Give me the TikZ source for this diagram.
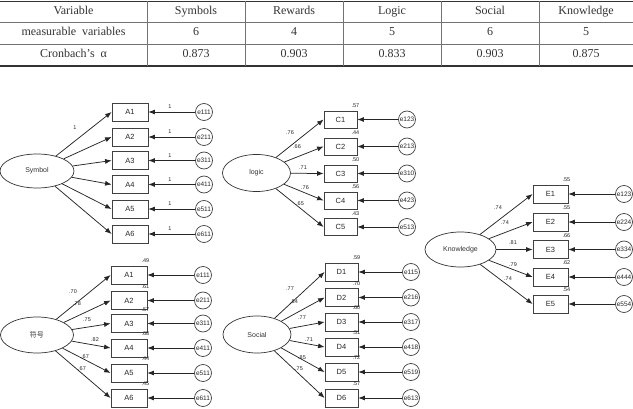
\documentclass[tikz,border=0pt]{standalone}
\usepackage{fontspec}
\setmainfont{Liberation Serif}
\newfontfamily\dsans{Liberation Sans}
\newfontfamily\cjk{Noto Sans CJK SC}
\usetikzlibrary{arrows.meta,shapes.geometric}
\begin{document}
\begin{tikzpicture}[x=1pt,y=-1pt,
 latent/.style={ellipse,draw=black!80,line width=0.7pt,minimum width=72pt,minimum height=35pt,inner sep=0pt,font=\dsans\fontsize{7}{8}\selectfont,text=black!80},
 obs/.style={rectangle,draw=black!75,line width=0.8pt,minimum width=35pt,minimum height=18pt,inner sep=0pt,font=\dsans\fontsize{7.5}{8}\selectfont,text=black!85},
 err/.style={circle,draw=black!75,line width=0.7pt,minimum size=17pt,inner sep=0pt,font=\dsans\fontsize{6.5}{7}\selectfont,text=black!85},
 lbl/.style={inner sep=0pt,font=\dsans\fontsize{5.5}{6}\selectfont,text=black!85},
 arr/.style={draw=black!85,line width=0.75pt,-{Latex[length=6.5pt,width=5pt]}},
 tcell/.style={inner sep=0pt,text height=8.5pt,text depth=2.5pt,font=\fontsize{12}{14}\selectfont,text=black!80},
 thick line/.style={draw=black!80,line width=1.6pt},
 thin line/.style={draw=black!55,line width=0.7pt}
]
\useasboundingbox (0,0) rectangle (633,409);
% ---------- table ----------
\draw[thick line] (0,1.5) -- (633,1.5);
\draw[thick line] (0,66) -- (633,66);
\draw[thin line] (0,22) -- (633,22);
\draw[thin line] (0,44) -- (633,44);
\foreach \x in {147,245,343,441,539} \draw[thin line] (\x,1.5) -- (\x,66);
\node[tcell] (h0) at (73.5,12) {Variable};
\node[tcell] (h1) at (196,12) {Symbols};
\node[tcell] (h2) at (294,12) {Rewards};
\node[tcell] (h3) at (392,12) {Logic};
\node[tcell] (h4) at (490,12) {Social};
\node[tcell] (h5) at (586,12) {Knowledge};
\node[tcell] (m0) at (73.5,33) {measurable\ \ variables};
\node[tcell] (m1) at (196,33) {6};
\node[tcell] (m2) at (294,33) {4};
\node[tcell] (m3) at (392,33) {5};
\node[tcell] (m4) at (490,33) {6};
\node[tcell] (m5) at (586,33) {5};
\node[tcell] (c0) at (73.5,55) {Cronbach’s\ \ α};
\node[tcell] (c1) at (196,55) {0.873};
\node[tcell] (c2) at (294,55) {0.903};
\node[tcell] (c3) at (392,55) {0.833};
\node[tcell] (c4) at (490,55) {0.903};
\node[tcell] (c5) at (586,55) {0.875};
% ---------- Symbol (unstandardized) ----------
\node[latent,minimum width=74pt,minimum height=34pt] (sym) at (37,171) {Symbol};
\foreach \n/\y/\e in {1/112/e111,2/137/e211,3/160.5/e311,4/184.5/e411,5/209/e511,6/234/e611}{
  \node[obs,minimum width=36pt] (A\n) at (130,\y) {A\n};
  \node[err] (ea\n) at (204,\y) {\e};
  \draw[arr] (ea\n) -- (A\n);
  \draw[arr] (sym) -- (A\n.west);
  \node[lbl] (ua\n) at (170,\y-5) {1};
}
\node[lbl] (ul1) at (75,128) {1};
% ---------- 符号 (standardized) ----------
\node[latent,minimum width=73pt,minimum height=36pt] (fh) at (37,335) {\cjk 符号};
\foreach \n/\y/\e/\r in {1/275/e111/.49,2/300.5/e211/.61,3/323.5/e311/.57,4/348/e411/.68,5/373/e511/.44,6/398/e611/.45}{
  \node[obs,minimum width=36pt] (B\n) at (129,\y) {A\n};
  \node[err] (eb\n) at (203,\y) {\e};
  \draw[arr] (eb\n) -- (B\n);
  \draw[arr] (fh) -- (B\n.west);
  \node[lbl,anchor=south east] (rb\n) at ([shift={(2,-2.5)}]B\n.north east) {\r};
}
\node[lbl] (lb1) at (73,292) {.70};
\node[lbl] (lb2) at (77,304) {.78};
\node[lbl] (lb3) at (87,320) {.75};
\node[lbl] (lb4) at (95,340) {.82};
\node[lbl] (lb5) at (85,357) {.67};
\node[lbl] (lb6) at (82,369) {.67};
% ---------- logic ----------
\node[latent,minimum width=68pt,minimum height=37pt] (lg) at (256.5,173) {logic};
\foreach \n/\y/\e/\r in {1/119.5/e123/.57,2/146.5/e213/.44,3/173.5/e310/.50,4/200.5/e423/.56,5/227/e513/.43}{
  \node[obs,minimum width=33pt,minimum height=17pt] (C\n) at (340.5,\y) {C\n};
  \node[err] (ec\n) at (407,\y) {\e};
  \draw[arr] (ec\n) -- (C\n);
  \draw[arr] (lg) -- (C\n.west);
  \node[lbl,anchor=south east] (rc\n) at ([shift={(2,-2.5)}]C\n.north east) {\r};
}
\node[lbl] (lc1) at (290,133) {.76};
\node[lbl] (lc2) at (297,147) {.66};
\node[lbl] (lc3) at (303,168) {.71};
\node[lbl] (lc4) at (305,188) {.76};
\node[lbl] (lc5) at (300,204) {.65};
% ---------- Social ----------
\node[latent,minimum width=68pt,minimum height=37pt] (so) at (257,334.5) {Social};
\foreach \n/\y/\e/\r in {1/272/e115/.59,2/297.5/e216/.70,3/322/e317/.60,4/347/e418/.51,5/372/e519/.72,6/398/e613/.57}{
  \node[obs,minimum width=33pt] (D\n) at (341.5,\y) {D\n};
  \node[err] (ed\n) at (411,\y) {\e};
  \draw[arr] (ed\n) -- (D\n);
  \draw[arr] (so) -- (D\n.west);
  \node[lbl,anchor=south east] (rd\n) at ([shift={(2,-2.5)}]D\n.north east) {\r};
}
\node[lbl] (ld1) at (290,289) {.77};
\node[lbl] (ld2) at (294,302) {.84};
\node[lbl] (ld3) at (302,318) {.77};
\node[lbl] (ld4) at (309,340) {.71};
\node[lbl] (ld5) at (302,358) {.85};
\node[lbl] (ld6) at (299,369) {.75};
% ---------- Knowledge ----------
\node[latent,minimum width=71pt,minimum height=35pt] (kn) at (460.5,249.5) {Knowledge};
\foreach \n/\y/\e/\r in {1/194/e123/.55,2/222/e224/.55,3/249.5/e334/.66,4/277/e444/.62,5/304/e554/.54}{
  \node[obs] (E\n) at (550.5,\y) {E\n};
  \node[err] (ee\n) at (624,\y) {\e};
  \draw[arr] (ee\n) -- (E\n);
  \draw[arr] (kn) -- (E\n.west);
  \node[lbl,anchor=south east] (re\n) at ([shift={(2,-2.5)}]E\n.north east) {\r};
}
\node[lbl] (le1) at (498,208) {.74};
\node[lbl] (le2) at (505,223) {.74};
\node[lbl] (le3) at (513,243) {.81};
\node[lbl] (le4) at (513,265) {.79};
\node[lbl] (le5) at (508,279) {.74};
\end{tikzpicture}
\end{document}
